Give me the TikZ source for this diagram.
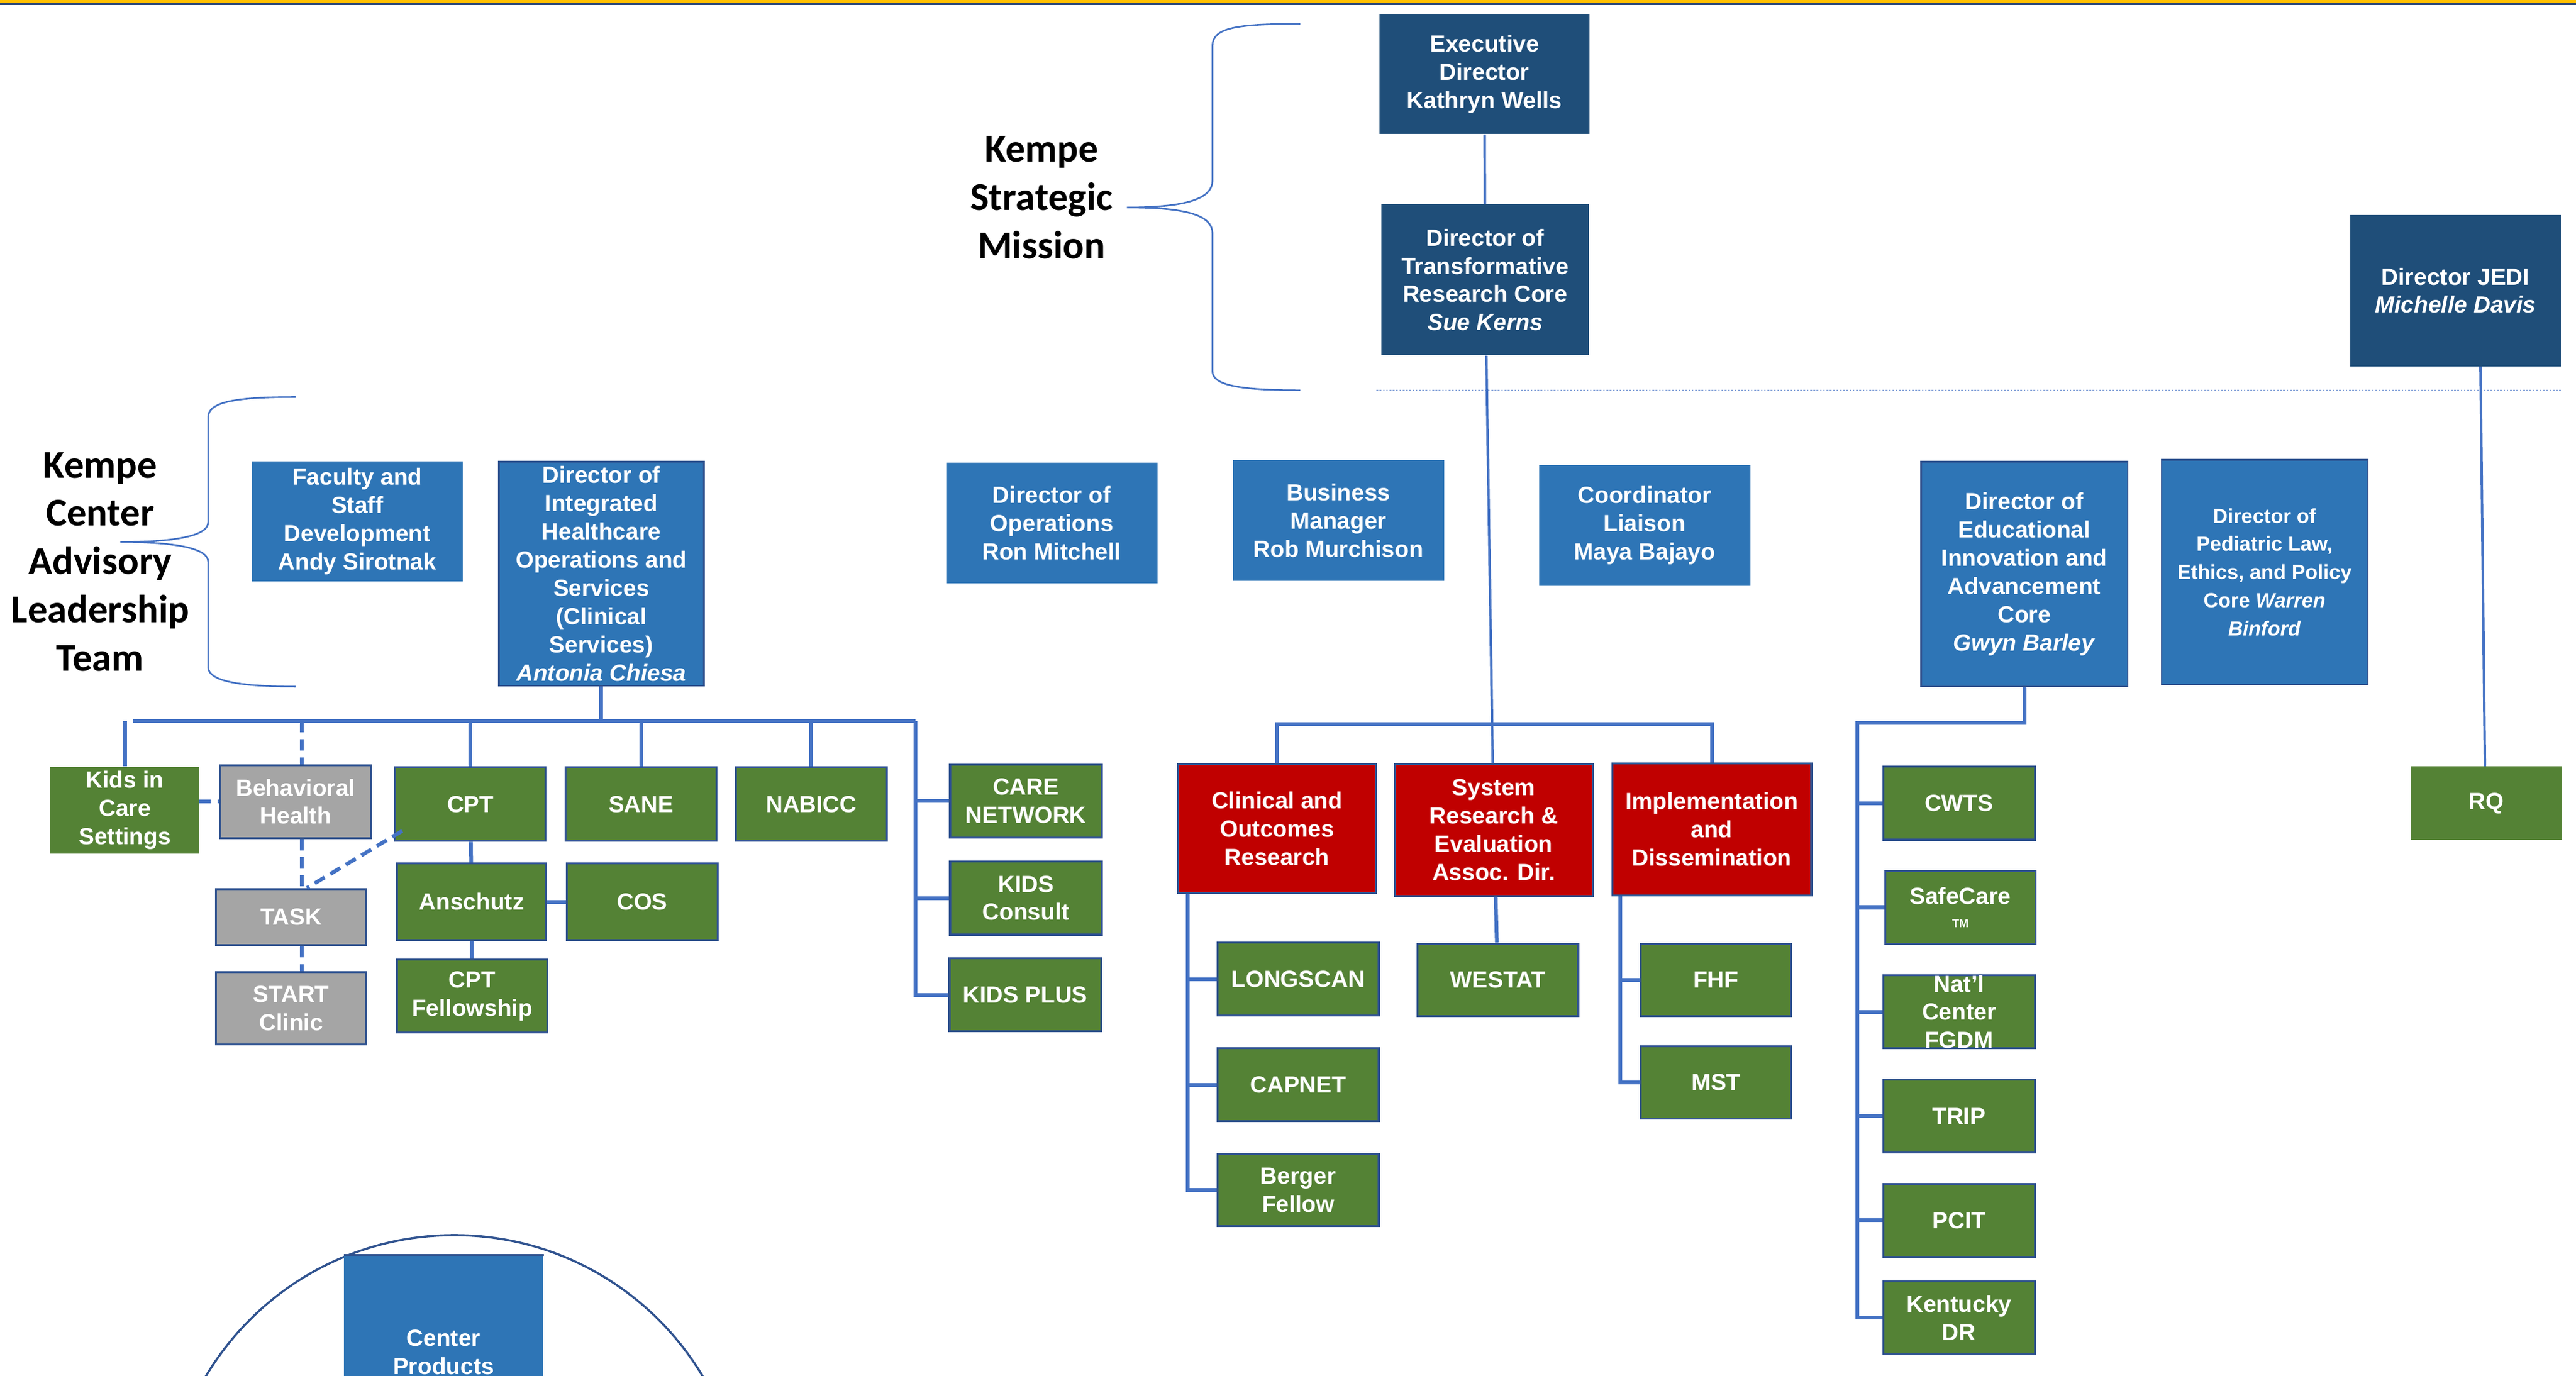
\documentclass[tikz,border=0pt]{standalone}
\usepackage{fontspec}
\setmainfont{Liberation Sans}
\newfontfamily\calib{Carlito}
\usetikzlibrary{calc}
\definecolor{navyc}{HTML}{1F4E79}
\definecolor{bluec}{HTML}{2E75B6}
\definecolor{greenc}{HTML}{548235}
\definecolor{redc}{HTML}{C00000}
\definecolor{grayc}{HTML}{A5A5A5}
\definecolor{connc}{HTML}{4472C4}
\definecolor{bordc}{HTML}{2F528F}
\definecolor{dotc}{HTML}{8FAADC}
\definecolor{goldc}{HTML}{FFC000}
\definecolor{topnavy}{HTML}{264478}
\tikzset{
  box/.style={text=white, font=\bfseries\fontsize{14.2}{17.2}\selectfont, align=center, inner sep=1pt, anchor=center},
  sz/.style 2 args={minimum width=#1pt, minimum height=#2pt},
  navybox/.style={box, fill=navyc},
  bluebox/.style={box, fill=bluec},
  bluebd/.style={box, fill=bluec, draw=bordc, line width=1pt},
  greenbox/.style={box, fill=greenc, draw=bordc, line width=1.2pt},
  greenplain/.style={box, fill=greenc},
  redbox/.style={box, fill=redc, draw=bordc, line width=1.2pt},
  graybox/.style={box, fill=grayc, draw=bordc, line width=1.2pt},
  conn/.style={draw=connc, line width=2.3pt},
  thinconn/.style={draw=connc, line width=1.5pt},
  dconn/.style={draw=connc, line width=2.3pt, dash pattern=on 7pt off 4pt},
  bracec/.style={draw=connc, line width=1pt},
  title/.style={align=center, text=black, font=\calib\bfseries\fontsize{24}{29.4}\selectfont}
}
\begin{document}
\begin{tikzpicture}[x=1pt,y=-1pt]
\clip (0,0) rectangle (1568,837.4);
\fill[white] (0,0) rectangle (1568,837.4);
% top band
\fill[goldc] (0,0) rectangle (1568,1.8);
\fill[topnavy] (0,1.8) rectangle (1568,2.9);

% titles
\node[title] (tmission) at (634,120.4) {Kempe\\Strategic\\Mission};
\node[title] (tadvisory) at (61,342) {Kempe\\Center\\Advisory\\Leadership\\Team};

% braces
\draw[bracec] (791.5,14.5) .. controls (752,14.5) and (738,17) .. (738,28) -- (738,110)
  .. controls (738,121) and (722,126.3) .. (686,126.3)
  .. controls (722,126.3) and (738,131) .. (738,142) -- (738,226)
  .. controls (738,234) and (752,237.6) .. (791.5,237.6);
\draw[bracec] (180,241.7) .. controls (142,241.7) and (126.7,245) .. (126.7,254) -- (126.7,318)
  .. controls (126.7,326) and (108,330) .. (73.2,330)
  .. controls (108,330) and (126.7,334) .. (126.7,342) -- (126.7,406)
  .. controls (126.7,414) and (142,418) .. (180,418);

% dotted separator
\draw[dotc, line width=0.8pt, dash pattern=on 1pt off 1pt] (837.8,237.6) -- (1558.7,237.6);

% top level boxes
\node[navybox, sz={127.8}{73.3}] (exec) at (903.6,45.05) {Executive\\Director\\Kathryn Wells};
\node[navybox, sz={126}{91.8}] (trc) at (904,170.4) {Director of\\Transformative\\Research Core\\\textit{Sue Kerns}};
\node[navybox, sz={128.1}{92.2}] (jedi) at (1494.65,176.9) {Director JEDI\\\textit{Michelle Davis}};

\node[bluebox, sz={128.2}{73.3}] (fac) at (217.5,317.55) {Faculty and\\Staff\\Development\\Andy Sirotnak};
\node[bluebd, sz={124.9}{136.4}] (dih) at (366.05,349.3) {Director of\\Integrated\\Healthcare\\Operations and\\Services\\(Clinical\\Services)\\\textit{Antonia Chiesa}};
\node[bluebox, sz={128.6}{73.5}] (ops) at (640.2,318.45) {Director of\\Operations\\Ron Mitchell};
\node[bluebox, sz={128.5}{73.5}] (busm) at (814.75,316.85) {Business\\Manager\\Rob Murchison};
\node[bluebox, sz={128.5}{73.5}] (coord) at (1001.15,319.95) {Coordinator\\Liaison\\Maya Bajayo};
\node[bluebd, sz={125.8}{136.9}] (edu) at (1232.2,349.45) {Director of\\Educational\\Innovation and\\Advancement\\Core\\\textit{Gwyn Barley}};
\node[bluebd, sz={125.2}{136.8}, font=\bfseries\fontsize{12.4}{17.2}\selectfont] (dpl) at (1378.4,348.4) {Director of\\Pediatric Law,\\Ethics, and Policy\\Core \textit{Warren}\\\textit{Binford}};

% left group
\node[greenplain, sz={90.4}{52.9}] (kids) at (76,493.35) {Kids in\\Care\\Settings};
\node[graybox, sz={92}{44.3}] (beh) at (180,488.05) {Behavioral\\Health};
\node[greenbox, sz={91.5}{44.8}] (cpt) at (286.35,489.6) {CPT};
\node[greenbox, sz={92}{44.8}] (sane) at (390.2,489.6) {SANE};
\node[greenbox, sz={91.9}{44.8}] (nab) at (493.85,489.6) {NABICC};
\node[graybox, sz={91.5}{34.1}] (task) at (177.25,558.35) {TASK};
\node[graybox, sz={91.5}{44}] (start) at (177.25,613.8) {START\\Clinic};
\node[greenbox, sz={90.8}{46.7}] (ans) at (287.1,549.05) {Anschutz};
\node[greenbox, sz={91.9}{46.7}] (cos) at (390.95,549.05) {COS};
\node[greenbox, sz={91.5}{44.4}] (cptf) at (287.45,606.4) {CPT\\Fellowship};
\node[greenbox, sz={92.4}{44.5}] (care) at (624.5,487.75) {CARE\\NETWORK};
\node[greenbox, sz={92.4}{44.6}] (kc) at (624.5,546.8) {KIDS\\Consult};
\node[greenbox, sz={92.4}{44.5}] (kp) at (624.1,605.75) {KIDS PLUS};

% research group
\node[redbox, sz={120.7}{78.4}] (cor) at (777.35,504.5) {Clinical and\\Outcomes\\Research};
\node[redbox, sz={120.7}{80.2}] (sre) at (909.25,505.4) {System\\Research \&\\Evaluation\\Assoc. Dir.};
\node[redbox, sz={121.2}{80.5}] (impl) at (1042,505.05) {Implementation\\and\\Dissemination};
\node[greenbox, sz={98.2}{44.3}] (long) at (790.2,596.15) {LONGSCAN};
\node[greenbox, sz={98.2}{44.4}] (capnet) at (790.2,660.4) {CAPNET};
\node[greenbox, sz={98.2}{44.1}] (berger) at (790.2,724.55) {Berger\\Fellow};
\node[greenbox, sz={97.7}{44.3}] (westat) at (911.75,596.65) {WESTAT};
\node[greenbox, sz={91.5}{44.3}] (fhf) at (1044.55,596.65) {FHF};
\node[greenbox, sz={91.5}{44.3}] (mst) at (1044.55,659.05) {MST};

% education group
\node[greenbox, sz={92.1}{44.6}] (cwts) at (1192.45,489) {CWTS};
\node[greenbox, sz={91.4}{44.7}] (safe) at (1193.3,552.45) {SafeCare\\[-3pt]{\fontsize{7}{8}\selectfont TM}};
\node[greenbox, sz={92.1}{44.3}] (natl) at (1192.45,616.05) {};
\node[box] (natltext) at (natl.center) {Nat’l\\Center\\FGDM};
\node[greenbox, sz={92.1}{44.4}] (trip) at (1192.45,679.5) {TRIP};
\node[greenbox, sz={92.1}{44.4}] (pcit) at (1192.45,743) {PCIT};
\node[greenbox, sz={92.1}{44.6}] (ky) at (1192.45,802.3) {Kentucky\\DR};
\node[greenplain, sz={92.1}{44.6}] (rq) at (1513.55,489) {RQ};

% center products
\draw[draw=bordc, line width=1.3pt] (276.5,928) circle (176);
\node[bluebox, sz={121.3}{117.7}] (cp) at (270.05,823.15) {Center\\Products};
\draw[bordc, line width=1.2pt] (cp.north west) -- (cp.north east);

% ---------- connectors ----------
\draw[thinconn] (exec) -- (trc);
\draw[thinconn] (trc) -- (sre);
\draw[thinconn] ($(jedi.south)+(15.2,0)$) -- ($(rq.north)+(-1,0)$);

% left bus
\coordinate (bl) at (81.3,439);
\coordinate (br) at (557.4,439);
\coordinate (dx) at (183.8,439);
\draw[conn] (bl) -- (br);
\draw[conn] (kids.north) -- (kids.north |- bl);
\draw[conn] (cpt.north) -- (cpt.north |- bl);
\draw[conn] (sane.north) -- (sane.north |- bl);
\draw[conn] (nab.north) -- (nab.north |- bl);
\draw[conn] (dih.south) -- (dih.south |- bl);
\draw[dconn] (dx) -- (beh.north -| dx);
\draw[dconn] (beh.south -| dx) -- (task.north -| dx);
\draw[dconn] (task.south -| dx) -- (start.north -| dx);
\draw[dconn] (kids.east |- beh.west) -- (beh.west);
\draw[dconn] ($(cpt.south west)+(4.8,-6.7)$) -- ($(task.north)+(9.5,0)$);
\draw[conn] (cpt) -- (ans);
\draw[conn] (ans) -- (cptf);
\draw[conn] (ans) -- (cos);
\draw[conn] (br) |- (kp.west);
\draw[conn] (care.west -| br) -- (care.west);
\draw[conn] (kc.west -| br) -- (kc.west);

% research bus
\coordinate (rb) at (907,440.9);
\draw[conn] (cor.north) |- (rb) -| (impl.north);
\coordinate (cs) at ($(cor.south west)+(6.7,0)$);
\draw[conn] (cs) |- (berger.west);
\draw[conn] (cs |- long.west) -- (long.west);
\draw[conn] (cs |- capnet.west) -- (capnet.west);
\draw[conn] (sre) -- (westat);
\coordinate (is) at ($(impl.south west)+(5.6,0)$);
\draw[conn] (is) |- (mst.west);
\draw[conn] (is |- fhf.west) -- (fhf.west);

% education bus
\coordinate (eb) at (1130.7,440.1);
\draw[conn] (edu.south) |- (eb) |- (ky.west);
\draw[conn] (eb |- cwts.west) -- (cwts.west);
\draw[conn] (eb |- safe.west) -- (safe.west);
\draw[conn] (eb |- natl.west) -- (natl.west);
\draw[conn] (eb |- trip.west) -- (trip.west);
\draw[conn] (eb |- pcit.west) -- (pcit.west);
\end{tikzpicture}
\end{document}
